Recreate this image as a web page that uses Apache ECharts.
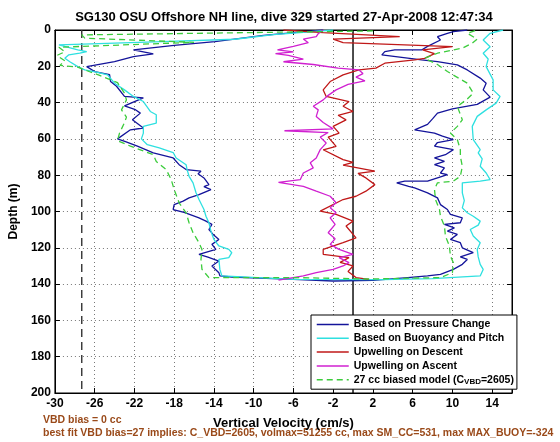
<!DOCTYPE html>
<html>
<head>
<meta charset="utf-8">
<script src="https://cdn.jsdelivr.net/npm/echarts@6/dist/echarts.min.js"></script>
<style>html,body{margin:0;padding:0;background:#fff}#c{width:560px;height:442px}</style>
</head>
<body>
<div id="c"></div>
<script>
// ---- data: [velocity cm/s, depth m] ----
const pressureChange = [[-3,0],[-6,1.5],[-9,3],[-13.9,6.4],[-18,8.5],[-22.1,11],[-20.1,13.2],[-22.1,14.7],[-24,17.4],[-26.8,20.2],[-26,22.9],[-24.5,24.6],[-24.4,28.4],[-23.8,31],[-23,36.6],[-21.1,37.4],[-23,41.8],[-21.9,43.9],[-21.4,45.8],[-22.2,49.5],[-21.1,54],[-22.4,55],[-23.7,60],[-22.9,61.5],[-21.7,64],[-20.1,67.7],[-18.1,70.5],[-17.5,74.2],[-16.8,76.9],[-15.3,77.8],[-15.6,79.2],[-15,81.5],[-14.5,85.2],[-15,86.3],[-14.3,87.9],[-15.5,90.7],[-16.5,92.5],[-17.1,94.3],[-18,96.2],[-18.1,98.9],[-17,100.5],[-15.5,103.5],[-14.8,105.3],[-14.2,107.1],[-14.5,109.9],[-14.1,112.5],[-13.5,115.4],[-14.2,118.1],[-13.8,120.9],[-15.5,123.6],[-14.6,125.2],[-13.5,127.3],[-14.2,130],[-13.5,133.7],[-13.4,135.5],[-12.2,136.1],[-6,137.4],[-2,138.3],[2,138],[5.5,136.4],[7.5,135.5],[8.8,134.6],[10.1,131.9],[11,129.1],[11.5,126.4],[10.8,125],[12.1,122.7],[11,120],[10.8,117.2],[9.8,115.4],[10.5,112.6],[9.5,110.8],[10.2,109],[9.2,107.1],[10.8,106.2],[11,103.5],[9.8,101.6],[9.5,98.9],[8.8,96.2],[8.5,92.5],[7.5,89.7],[6.2,87],[5.6,86.1],[4.4,84.2],[5.2,83.3],[7.5,83.3],[9.5,79.7],[8.8,78.8],[9.2,76],[8.2,74.2],[9.2,72.4],[8.2,70.5],[9.3,68.7],[10.1,65.9],[8.2,64],[8.5,62],[10.1,60.4],[9,58.5],[8.2,56.8],[6.2,55],[7.5,52],[8,49],[8.5,45.8],[10,43.5],[12.5,41],[13.8,37],[13.1,33],[13.4,29.3],[12.8,26.5],[11.5,22],[10.5,19.2],[8.5,17.4],[6.9,16.5],[2.9,13.7],[3.2,11.9],[4.2,11],[6.9,11],[7.5,9],[8.8,5.5],[8.5,3.7],[9.5,1.8],[10.1,0.9],[11.5,0]];

const buoyancyPitch = [[-2,0],[-8,2.5],[-11.9,5.1],[-20,6.5],[-29.6,8.2],[-27.7,11],[-26.8,11.9],[-27.5,12.8],[-28.6,13.7],[-29,15.6],[-28.5,17.5],[-27.7,20.2],[-27,22],[-25.7,23.4],[-24.7,24.7],[-24,29.3],[-23,33],[-22.1,36.6],[-21.1,39.4],[-20.4,44.9],[-19.8,46.7],[-19.8,51.3],[-21.1,53.1],[-21.1,56.8],[-21.3,60],[-20.7,63.2],[-19.5,65],[-18.1,67.5],[-17.8,70.5],[-16.8,74.2],[-16.7,76.9],[-16.5,80.6],[-16.1,84.2],[-15.8,89.7],[-15.5,93.4],[-15,98.9],[-14.8,102.6],[-14.5,106.2],[-14.3,110.8],[-14,115.4],[-13.5,119],[-12.5,120.9],[-12.2,122.7],[-12.5,125.4],[-13.5,126.4],[-13.4,131.9],[-13.2,135.5],[-6,137.4],[3,137.5],[8,137],[12.8,135.5],[13.1,131.9],[12.8,129.1],[12.6,125],[12.5,120.9],[12.8,117.2],[12.1,113.5],[11.8,109.9],[12.6,107.5],[12.8,105.3],[12.1,102.6],[11.5,100.7],[11,98],[11.2,94],[11,89.7],[11,86],[11,84.2],[12.8,83.3],[13.8,82.4],[13.4,78.8],[12.8,75.1],[13,71],[12.6,67.7],[12.8,65.9],[12.1,60.4],[12,53.1],[12.5,47.6],[13.4,44],[14.4,40.3],[14.8,36.6],[14.1,33],[14.1,27.5],[13.4,20.2],[13.6,16],[13.1,12.8],[13.8,9.2],[13.1,5.5],[13.8,1.8],[15.1,0]];

const upwellingDescent = [[-7,0],[-3,1.5],[4.7,3.7],[-2,5],[-1,7],[10,9.2],[7,11],[8.2,13],[7.2,15.6],[6.2,16.5],[3.2,18.3],[2.3,21],[0.6,22],[-1,24.7],[-2.3,28.4],[-3,33],[-2.7,36.6],[-0.4,39.4],[-1,42],[0,44.9],[-1.5,47],[-0.7,49.5],[-2,53.1],[-1.4,56.8],[-2.5,59],[-1.7,64.1],[-3,66],[-1,71.4],[0,73],[-1,74.5],[2.2,77.8],[0.5,79],[1.3,81.5],[2.2,85.2],[1.3,88.8],[0.3,91.6],[-1,93.4],[-3.3,99.8],[-1.7,101.6],[0,105.3],[-0.7,108],[0.3,114.5],[-1,117.2],[-3,120.9],[-3,123.6],[-0.4,125.4],[-1.3,128],[0,130],[-0.5,133],[0.3,136.4],[1.6,137.4]];

const upwellingAscent = [[-3,0],[-3.5,2],[-3.7,3.7],[-5,5],[-4.5,7],[-6,9],[-7.6,11],[-6,12],[-7.8,13],[-6.5,14],[-5,16],[-7,17.5],[-4,19],[-1.5,21],[0.6,22],[1,24],[0.3,26],[1.2,28],[-0.5,30],[-1.7,33],[-2.5,36],[-3,38.5],[-4,42],[-3.5,44],[-3.7,47.6],[-3,51],[-2,54.5],[-6.9,55.5],[-2.5,56.5],[-3.3,59],[-2.7,62.3],[-3.3,65.9],[-3.7,70.5],[-4.3,73.2],[-4,76],[-5,78.8],[-5.3,82.4],[-7.5,84],[-5,86.1],[-3.7,88.8],[-2.3,91.6],[-1.7,95.2],[-2.3,98],[-1.7,100.7],[-2.3,103.5],[-1.8,107.1],[-2.5,111.7],[-1.8,115],[-2.3,118.1],[-1.4,120.9],[0,123.6],[-1.4,125.4],[-0.4,128.2],[-1,130],[-2,131.9],[-3.7,133.7],[-5,135.5],[-7.5,137.8]];

const biasedModel = [[2,0.5],[-27.3,2.7],[-27,4.5],[-16,6.8],[-29.6,9.5],[-29,12],[-29.8,14],[-29,17],[-29.5,19.5],[-27.7,20.5],[-26.5,23],[-25.5,25],[-23.7,29],[-23,34.8],[-22.8,38.5],[-23.3,44],[-22.8,48],[-23,51],[-23.5,56.8],[-23.7,61],[-22.4,64],[-20.1,68.7],[-19.8,72.4],[-18.8,76.9],[-18.3,82.4],[-18,87.9],[-17.5,95.2],[-16.8,100.7],[-16.5,106.2],[-16.1,111.7],[-15.5,117.2],[-15.2,120.9],[-15.3,126.4],[-15.2,131.9],[-14.5,136.4],[-6,136.4],[1.6,137.2],[8.8,136.4],[10,133.7],[10.1,128.2],[9.8,124.5],[9.7,119],[9.3,113.5],[9.2,108],[8.8,102.6],[8.7,98.9],[8.3,93.4],[8.2,87.9],[8.5,84.2],[10.1,83.3],[10.8,80.6],[11,75.1],[10.8,69.6],[10.8,65.9],[10.5,60.4],[9.8,56.8],[10.5,53.1],[11,49.5],[10.5,42.1],[11.5,38],[12.1,34.8],[11.5,29.3],[9.5,22.9],[8.5,19],[7.2,15.6],[8.5,12.8],[11,10],[12,7.3],[12.5,5],[11.5,1.8],[12.5,0]];

const biasLineX = -27.3;
const zeroLineX = 0;
const depthRange = [0, 200];

const seriesNames = ['Based on Pressure Change','Based on Buoyancy and Pitch','Upwelling on Descent','Upwelling on Ascent','27 cc biased model (C_VBD=2605)'];
const titleText = 'SG130 OSU Offshore NH line, dive 329 started 27-Apr-2008 12:47:34';
const xAxisTitle = 'Vertical Velocity (cm/s)';
const yAxisTitle = 'Depth (m)';
const noteLine1 = 'VBD bias = 0 cc';
const noteLine2 = 'best fit VBD bias=27 implies: C_VBD=2605, volmax=51255 cc, max SM_CC=531, max MAX_BUOY=-324';

// ---- chart ----
const FONT = 'Liberation Sans, Arial, Helvetica, sans-serif';
const chart = echarts.init(document.getElementById('c'), null, {renderer: 'canvas'});
const tickStyle = {show: true, inside: true, length: 5, lineStyle: {color: '#000', width: 1}};
const gridLine = {show: true, lineStyle: {color: '#777', width: 1, type: [1, 3]}};
function lineSeries(name, data, color, dashed) {
  return {
    name: name, type: 'line', data: data, showSymbol: false, symbol: 'none',
    lineStyle: {color: color, width: 1.3, type: dashed ? [6, 4] : 'solid'},
    itemStyle: {color: color}, animation: false, z: 3
  };
}
const option = {
  animation: false,
  backgroundColor: '#fff',
  title: {text: titleText, left: 279, textAlign: 'center', top: 6,
    textStyle: {fontFamily: FONT, fontSize: 13, fontWeight: 'bold', color: '#000'}},
  grid: {left: 46, right: 48, top: 30, bottom: 49, show: true, borderColor: '#000', borderWidth: 1, backgroundColor: 'transparent'},
  xAxis: [
    {type: 'value', position: 'bottom', min: -30, max: 16, interval: 4,
     name: xAxisTitle, nameLocation: 'middle', nameGap: 24,
     nameTextStyle: {fontFamily: FONT, fontSize: 13, fontWeight: 'bold', color: '#000'},
     axisLine: {show: true, onZero: false, lineStyle: {color: '#000'}},
     axisTick: tickStyle,
     axisLabel: {fontFamily: FONT, fontSize: 12, fontWeight: 'bold', color: '#000', margin: 5, showMaxLabel: false},
     splitLine: gridLine},
    {type: 'value', position: 'top', min: -30, max: 16, interval: 4,
     axisLine: {show: true, onZero: false, lineStyle: {color: '#000'}},
     axisTick: tickStyle, axisLabel: {show: false}, splitLine: {show: false}}
  ],
  yAxis: [
    {type: 'value', position: 'left', inverse: true, min: depthRange[0], max: depthRange[1], interval: 20,
     name: yAxisTitle, nameLocation: 'middle', nameGap: 32,
     nameTextStyle: {fontFamily: FONT, fontSize: 12, fontWeight: 'bold', color: '#000'},
     axisLine: {show: true, onZero: false, lineStyle: {color: '#000'}},
     axisTick: tickStyle,
     axisLabel: {fontFamily: FONT, fontSize: 12, fontWeight: 'bold', color: '#000', margin: 4},
     splitLine: gridLine},
    {type: 'value', position: 'right', inverse: true, min: depthRange[0], max: depthRange[1], interval: 20,
     axisLine: {show: true, onZero: false, lineStyle: {color: '#000'}},
     axisTick: tickStyle, axisLabel: {show: false}, splitLine: {show: false}}
  ],
  legend: {
    orient: 'vertical', left: 311, top: 315, data: seriesNames,
    backgroundColor: '#fff', borderColor: '#000', borderWidth: 1,
    padding: [4, 3, 3, 5], itemWidth: 32, itemHeight: 10, itemGap: 2.8,
    itemStyle: {color: 'rgba(0,0,0,0)', borderWidth: 0, opacity: 0},
    lineStyle: {width: 1.5},
    textStyle: {fontFamily: FONT, fontSize: 10.5, fontWeight: 'bold', color: '#000',
      rich: {sub: {fontFamily: FONT, fontSize: 8, fontWeight: 'bold', color: '#000', verticalAlign: 'bottom', padding: [5, 0, 0, 0]}}},
    formatter: function (n) {
      if (n.indexOf('C_VBD') >= 0) return n.replace('C_VBD', 'C{sub|VBD}');
      return n;
    }
  },
  series: [
    {type: 'line', data: [[biasLineX, depthRange[0]], [biasLineX, depthRange[1]]], showSymbol: false, symbol: 'none', silent: true,
     lineStyle: {color: '#333', width: 1.4, type: [8, 5]}, z: 2},
    {type: 'line', data: [[zeroLineX, depthRange[0]], [zeroLineX, depthRange[1]]], showSymbol: false, symbol: 'none', silent: true,
     lineStyle: {color: '#000', width: 1.4}, z: 2},
    lineSeries(seriesNames[0], pressureChange, '#14149a', false),
    lineSeries(seriesNames[1], buoyancyPitch, '#2ee0e0', false),
    lineSeries(seriesNames[2], upwellingDescent, '#c01818', false),
    lineSeries(seriesNames[3], upwellingAscent, '#d020d0', false),
    lineSeries(seriesNames[4], biasedModel, '#3ccc3c', true)
  ],
  graphic: [
    {type: 'text', left: 43, top: 415, style: {text: noteLine1, fill: '#9a4a1a', font: 'bold 10.5px ' + FONT}},
    {type: 'text', left: 43, top: 428, style: {text: noteLine2, fill: '#9a4a1a', font: 'bold 10.5px ' + FONT}}
  ]
};
chart.setOption(option);
</script>
</body>
</html>
